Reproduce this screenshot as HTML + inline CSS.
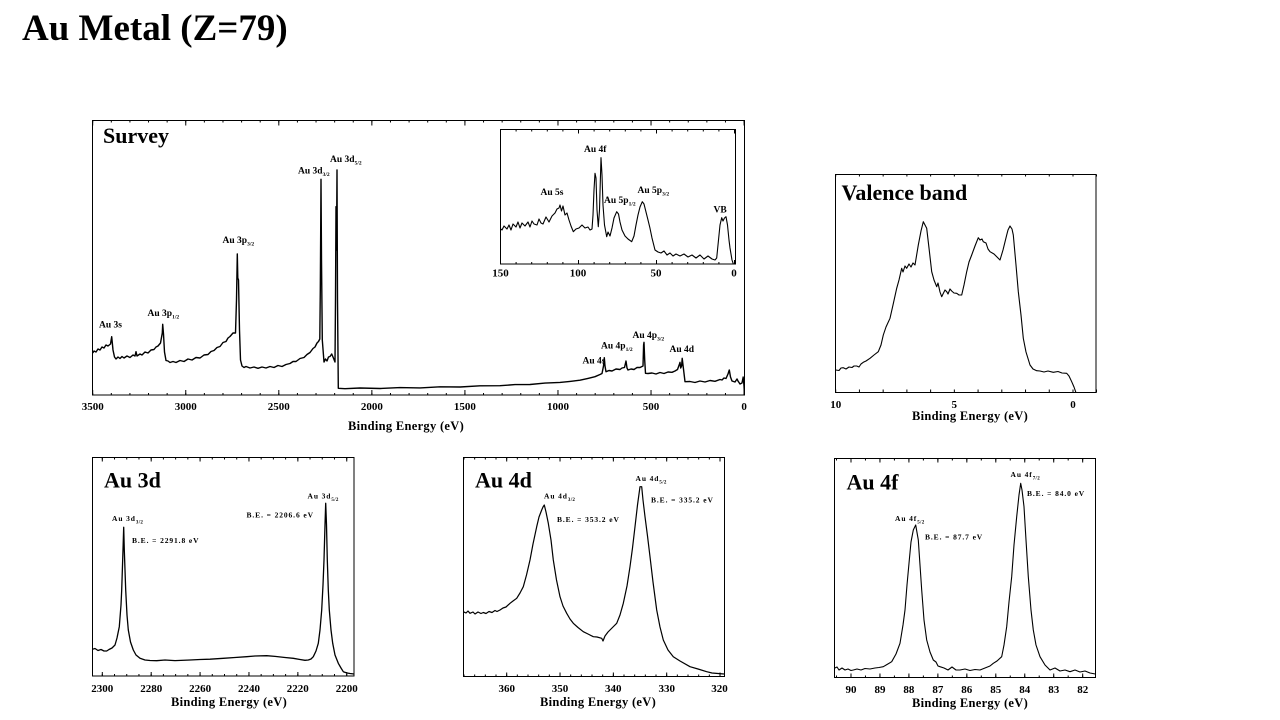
<!DOCTYPE html>
<html>
<head>
<meta charset="utf-8">
<style>
html,body{margin:0;padding:0;background:#fff;}
svg{display:block;}
text{font-family:"Liberation Serif",serif;font-weight:bold;fill:#000;}
.tk{font-size:11px;text-anchor:middle;}
.ax{font-size:12.5px;text-anchor:middle;letter-spacing:0.3px;}
.pt{font-size:22px;}
.an{font-size:9.5px;}
.sm{font-size:7.5px;letter-spacing:0.9px;}
</style>
</head>
<body>
<svg width="1280" height="720" viewBox="0 0 1280 720" xmlns="http://www.w3.org/2000/svg">
<defs>
<clipPath id="cs"><rect x="92.5" y="120.5" width="652" height="274.5"/></clipPath>
<clipPath id="ci"><rect x="500.5" y="129.5" width="235" height="134.5"/></clipPath>
<clipPath id="cv"><rect x="835.5" y="174.5" width="260.5" height="218"/></clipPath>
<clipPath id="c3"><rect x="92.5" y="457.5" width="261.5" height="218.5"/></clipPath>
<clipPath id="c4"><rect x="463.5" y="457.5" width="261" height="219"/></clipPath>
<clipPath id="cf"><rect x="834.5" y="458.5" width="261" height="219"/></clipPath>
</defs>

<text x="22" y="40" style="font-size:37px">Au Metal (Z=79)</text>

<!-- ============ SURVEY ============ -->
<rect x="92.5" y="120.5" width="652" height="274.5" fill="none" stroke="#000" stroke-width="1"/>
<g stroke="#000" fill="none">
<line x1="92.2" y1="394" x2="746" y2="394" stroke-width="2" stroke-dasharray="1 17.611"/>
<line x1="92.2" y1="392.5" x2="746" y2="392.5" stroke-width="5" stroke-dasharray="1 92.055"/>
<line x1="92.2" y1="121.5" x2="746" y2="121.5" stroke-width="2" stroke-dasharray="1 17.611"/>
<line x1="92.2" y1="123" x2="746" y2="123" stroke-width="5" stroke-dasharray="1 92.055"/>
</g>
<path clip-path="url(#cs)" fill="none" stroke="#000" stroke-width="1.4" stroke-linejoin="round" d="M92.7,353 L94,351 L96,352 L98,349 L100,350 L102,347 L104,348 L106,345 L108,346 L110.5,344 L111.7,336.7 L113,350 L114.5,357 L116,359 L118,357 L120,358.5 L122,356.5 L124,358 L127,356 L130,357.5 L133,355 L135,356 L136,351.7 L137,356 L140,354 L142,355 L145,352 L148,353 L151,350 L154,349.5 L156,347 L158,346 L160.5,343 L162.3,333 L162.7,324.3 L163.5,334 L164.5,352 L166,360.5 L168,361 L170,362.5 L173,361.5 L176,362.5 L180,360.5 L184,361.5 L188,359 L192,360 L196,357.5 L200,358 L204,355 L208,354.5 L211,351.5 L214,350.5 L217,347.5 L220,346.5 L223,342.5 L226,341.5 L228,338 L230,336.5 L233,333 L235.5,333 L236.5,300 L237.3,254 L237.8,278 L238.5,280 L239.5,330 L240.5,360 L242,366 L244,367.5 L246,366.5 L250,368 L254,367 L258,368.3 L262,367 L266,368 L270,366.5 L274,367.5 L278,365.5 L282,366.5 L286,364.5 L290,363.5 L293,361.5 L296,361.5 L300,358.5 L304,357.5 L307,354.5 L310,352.5 L313,348.5 L315,347 L317,343 L318.5,341.5 L319.8,339 L320.3,290 L320.7,230 L321,179.3 L321.5,260 L322.3,340 L324,362 L325.5,359 L327,361 L328.5,357 L330,356.5 L331.7,354 L333,357 L335,362 L335.5,300 L336,206.7 L336.5,250 L337,170 L337.5,300 L338.3,388.3 L345,388.7 L360,388 L380,388.5 L400,387.6 L420,387.9 L440,386.8 L460,387 L480,385.8 L500,385.7 L515,384.6 L530,384.5 L545,383.1 L560,382.4 L570,381.4 L580,380.2 L588,378.4 L595,376.7 L600,374.5 L602,373.5 L603.5,366 L604.3,357.7 L605,366 L606,371.7 L609,370.5 L612,371 L616,369 L620,369.5 L622,368 L624.5,367.5 L626,361 L627,368 L628,370 L631,369 L634,369.5 L637,367.5 L640,367.5 L643,366 L643.6,345 L644,342.3 L644.7,360 L645.5,373.3 L648,373.5 L652,373 L656,374 L660,372.5 L664,373.5 L668,372 L672,372.3 L675,371 L677.5,369.5 L679.5,364 L680,362.3 L680.7,368 L681.6,366 L682.2,358.3 L683,365 L685,381.7 L690,381.5 L695,382.5 L700,381 L705,382 L710,380.5 L715,381.3 L720,379.5 L722,380 L724,378 L726,378.5 L728,374 L729.3,370 L730.5,377 L732,381 L735,382 L737,379 L738,381 L740,384 L742,383 L743.2,377 L744,386 L744.5,395"/>

<text x="103" y="143" class="pt">Survey</text>
<text x="99" y="327.5" class="an">Au 3s</text>
<text x="147.5" y="316" class="an">Au 3p<tspan style="font-size:5.5px" dy="2.5">1/2</tspan></text>
<text x="222.5" y="243" class="an">Au 3p<tspan style="font-size:5.5px" dy="2.5">3/2</tspan></text>
<text x="298" y="173.5" class="an">Au 3d<tspan style="font-size:5.5px" dy="2.5">3/2</tspan></text>
<text x="330" y="162" class="an">Au 3d<tspan style="font-size:5.5px" dy="2.5">5/2</tspan></text>
<text x="582.5" y="363.5" class="an">Au 4s</text>
<text x="601" y="348.5" class="an">Au 4p<tspan style="font-size:5.5px" dy="2.5">1/2</tspan></text>
<text x="632.5" y="338" class="an">Au 4p<tspan style="font-size:5.5px" dy="2.5">3/2</tspan></text>
<text x="669.5" y="352" class="an">Au 4d</text>

<text x="92.7" y="410" class="tk">3500</text>
<text x="185.8" y="410" class="tk">3000</text>
<text x="278.8" y="410" class="tk">2500</text>
<text x="371.9" y="410" class="tk">2000</text>
<text x="464.9" y="410" class="tk">1500</text>
<text x="558" y="410" class="tk">1000</text>
<text x="651" y="410" class="tk">500</text>
<text x="744.1" y="410" class="tk">0</text>
<text x="406" y="430" class="ax">Binding Energy (eV)</text>

<!-- inset -->
<rect x="500.5" y="129.5" width="235" height="134.5" fill="#fff" stroke="#000" stroke-width="1"/>
<g stroke="#000" fill="none">
<line x1="500" y1="263" x2="736" y2="263" stroke-width="2" stroke-dasharray="1 14.6"/>
<line x1="500" y1="262" x2="736" y2="262" stroke-width="4" stroke-dasharray="1 77"/>
<line x1="500" y1="130.5" x2="736" y2="130.5" stroke-width="2" stroke-dasharray="1 14.6"/>
<line x1="500" y1="131.5" x2="736" y2="131.5" stroke-width="4" stroke-dasharray="1 77"/>
</g>
<path clip-path="url(#ci)" fill="none" stroke="#000" stroke-width="1.1" stroke-linejoin="round" d="M500,228.3 L502,230 L504,226 L507,229 L509,225 L511,230 L513,224 L516,227 L518,222 L520,228 L522,223 L525,226 L528,222 L530,227 L532,221 L534,224 L537,225 L539,219 L541,223 L543,224 L546,217 L549,222 L552,216 L555,213 L557,209 L559,208 L560,205 L561.5,211 L563,206 L565,215 L567,213 L569,220 L571,226 L573.3,231.7 L576,229 L579,228 L582,225 L585,228 L588,227 L590,230 L592,229 L593,215 L594,190 L595,173.3 L596,178 L597,210 L598.3,226.7 L599.5,210 L600.5,175 L601,157.7 L602,175 L603,205 L604.5,225 L606.7,236.7 L608,232 L610,236 L612,228 L614,218 L616.7,211.7 L618.5,214 L620,222 L622,230 L625,236 L628,239 L631.7,241.7 L634,236 L636,225 L638,215 L640,207 L642.3,201.7 L644,204 L646,212 L648,220 L650,228.3 L652,238 L655,250 L658,252 L661,253 L664,251 L667,255 L670,253 L673,256 L676,254 L680,256 L684,254 L688,257 L692,255 L696,258 L700,255 L704,259 L708,256 L712,259 L715,260 L716.7,258 L718,245 L720,225 L721.7,217.7 L723,221 L724.5,218 L726,216.7 L727.5,225 L729,240 L730,248 L732,260 L734,266"/>
<text x="584" y="152" class="an">Au 4f</text>
<text x="540.5" y="195" class="an">Au 5s</text>
<text x="604" y="203" class="an">Au 5p<tspan style="font-size:5.5px" dy="2.5">1/2</tspan></text>
<text x="637.5" y="193" class="an">Au 5p<tspan style="font-size:5.5px" dy="2.5">3/2</tspan></text>
<text x="713.5" y="212.5" class="an">VB</text>
<text x="500.5" y="276.5" class="tk">150</text>
<text x="578" y="276.5" class="tk">100</text>
<text x="656" y="276.5" class="tk">50</text>
<text x="734" y="276.5" class="tk">0</text>

<!-- ============ VALENCE BAND ============ -->
<rect x="835.5" y="174.5" width="260.5" height="218" fill="none" stroke="#000" stroke-width="1"/>
<g stroke="#000" fill="none">
<line x1="835.2" y1="391" x2="1097" y2="391" stroke-width="3" stroke-dasharray="1 22.73"/>
<line x1="835.2" y1="175.5" x2="1097" y2="175.5" stroke-width="2" stroke-dasharray="1 22.73"/>
</g>
<path clip-path="url(#cv)" fill="none" stroke="#000" stroke-width="1.1" stroke-linejoin="round" d="M835.7,370 L839,370.5 L841,368 L843.3,367.7 L846,369 L849,367 L852,367.5 L854,366 L856.7,366 L859,367 L861,364 L863.3,362.3 L866,361 L870,358.3 L874,355 L878.3,351.7 L881,345 L883.3,335 L886,327 L890,318.3 L893,305 L896.7,288.3 L899,280 L901.7,268.3 L903,272 L905,266 L906.7,268.3 L909,264 L911,267 L913,263 L915,265 L918.3,245 L921,231 L923.3,221.7 L926.7,228.3 L929,248 L931.7,271.7 L934,280 L936.7,286.7 L938,283 L940,292 L941.7,296.7 L943,294 L945,290 L946.7,291.7 L948,294 L950,289 L951.7,291 L954,293 L956.7,293.3 L959,295 L961.7,295 L964,285 L966.7,271.7 L969,262 L971.7,255 L975,246 L978.3,237.7 L980,240 L982,239 L983.3,241.7 L986,243 L988,249 L990,251.7 L994,254 L997,257 L1000,260 L1003,250 L1006.7,235 L1008,230 L1010,226 L1012,229 L1013.3,235 L1016,265 L1018.3,291.7 L1021,315 L1023.3,338.3 L1026,352 L1030,365 L1033,369 L1036.7,370.7 L1040,371 L1044,372 L1048,371 L1053.3,372.3 L1058,371.5 L1062,373 L1066.7,373.3 L1069,376 L1071.7,381.7 L1074,387 L1076,392.7 L1096,392.7"/>
<text x="841.5" y="200" class="pt">Valence band</text>
<text x="835.7" y="408" class="tk">10</text>
<text x="954.3" y="408" class="tk">5</text>
<text x="1073" y="408" class="tk">0</text>
<text x="970" y="420" class="ax">Binding Energy (eV)</text>

<!-- ============ Au 3d ============ -->
<rect x="92.5" y="457.5" width="261.5" height="218.5" fill="none" stroke="#000" stroke-width="1"/>
<g stroke="#000" fill="none">
<line x1="101.8" y1="675" x2="355" y2="675" stroke-width="2" stroke-dasharray="1 11.22"/>
<line x1="101.8" y1="674" x2="355" y2="674" stroke-width="4" stroke-dasharray="1 47.89"/>
<line x1="101.8" y1="458.5" x2="355" y2="458.5" stroke-width="2" stroke-dasharray="1 11.22"/>
<line x1="101.8" y1="459.5" x2="355" y2="459.5" stroke-width="4" stroke-dasharray="1 47.89"/>
</g>
<path clip-path="url(#c3)" fill="none" stroke="#000" stroke-width="1.3" stroke-linejoin="round" d="M92.3,649.3 L95,648.5 L98,650.5 L101,649.5 L104,651 L106.7,651 L109,649.5 L112,648 L115,645 L117,638 L119.3,626.7 L121,605 L121.7,590 L123,550 L123.7,527.3 L124.3,550 L125.7,590 L127,615 L128.3,630 L130.5,642 L133.3,650 L136,655 L140,658.3 L145,660 L150,660.5 L156.7,660.7 L165,660 L175,660.6 L190,660 L200,659.5 L210,659.2 L223.3,658.3 L235,657.5 L246.7,656.7 L255,656 L266.7,655.7 L275,656.4 L285,657.5 L293.3,658.3 L300,659.5 L305,660.3 L308.3,660 L311,659 L313.3,656.7 L316,651 L318.3,643.3 L320,630 L321.7,610 L323,585 L324,560 L325,525 L325.7,503.3 L326.5,525 L327.3,560 L328.3,590 L329.3,610 L331,630 L332.7,643.3 L335,655 L338.3,663.3 L341,668 L343.3,671.7 L347,673 L350,673.5 L354,674"/>
<text x="104" y="487.5" class="pt">Au 3d</text>
<text x="112" y="521" class="sm">Au 3d<tspan style="font-size:5px;letter-spacing:0.3px" dy="2.5">3/2</tspan></text>
<text x="132" y="543" class="sm">B.E. = 2291.8 eV</text>
<text x="307.5" y="498.5" class="sm">Au 3d<tspan style="font-size:5px;letter-spacing:0.3px" dy="2.5">5/2</tspan></text>
<text x="246.5" y="517.5" class="sm">B.E. = 2206.6 eV</text>
<text x="102.3" y="692" class="tk">2300</text>
<text x="151.2" y="692" class="tk">2280</text>
<text x="200.1" y="692" class="tk">2260</text>
<text x="249" y="692" class="tk">2240</text>
<text x="297.8" y="692" class="tk">2220</text>
<text x="346.7" y="692" class="tk">2200</text>
<text x="229" y="706" class="ax">Binding Energy (eV)</text>

<!-- ============ Au 4d ============ -->
<rect x="463.5" y="457.5" width="261" height="219" fill="none" stroke="#000" stroke-width="1"/>
<g stroke="#000" fill="none">
<line x1="463.5" y1="675.5" x2="726" y2="675.5" stroke-width="2" stroke-dasharray="1 9.667"/>
<line x1="506.2" y1="674.5" x2="726" y2="674.5" stroke-width="4" stroke-dasharray="1 52.33"/>
<line x1="463.5" y1="458.5" x2="726" y2="458.5" stroke-width="2" stroke-dasharray="1 9.667"/>
<line x1="506.2" y1="459.5" x2="726" y2="459.5" stroke-width="4" stroke-dasharray="1 52.33"/>
</g>
<path clip-path="url(#c4)" fill="none" stroke="#000" stroke-width="1.2" stroke-linejoin="round" d="M463.3,611.7 L466,613 L468,611 L470,613.3 L473,612 L475,614 L478,612 L481,613.5 L483.3,612.5 L486,613.5 L489,611.5 L492,612.5 L495,610.5 L497,611.5 L500,610 L503,608 L506,607 L510,603.3 L513,601 L516.7,598.3 L520,593 L523.3,586.7 L526.5,575 L530,560 L533,544 L536.7,526.7 L539,517 L541.7,510 L543,507 L544.3,505 L546,512 L548.3,523.3 L551,540 L553.3,560 L556.5,580 L560,596.7 L563,606 L566.7,613.3 L570,619 L573.3,623.3 L578,627.5 L583.3,631.7 L588,634 L593.3,636.7 L597,637 L601.7,638.3 L603,641 L605,636 L608,632 L610,630 L613,627 L616.7,623.3 L620,615 L623.3,603.3 L627,586 L630,566.7 L632.5,548 L635,526.7 L637.5,505 L640,486.7 L641.7,486.7 L643,500 L645,516.7 L647.5,536 L650,556.7 L653,582 L656.7,610 L660,627 L663.3,640 L668,650 L673.3,656.7 L680,661 L690,666.7 L698,669 L706.7,671.7 L712,673 L718,673.5 L724,674"/>
<text x="475" y="487.5" class="pt">Au 4d</text>
<text x="544" y="498.5" class="sm">Au 4d<tspan style="font-size:5px;letter-spacing:0.3px" dy="2.5">3/2</tspan></text>
<text x="557" y="522" class="sm">B.E. = 353.2 eV</text>
<text x="635.5" y="481" class="sm">Au 4d<tspan style="font-size:5px;letter-spacing:0.3px" dy="2.5">5/2</tspan></text>
<text x="651" y="502.5" class="sm">B.E. = 335.2 eV</text>
<text x="506.7" y="692" class="tk">360</text>
<text x="560" y="692" class="tk">350</text>
<text x="613.3" y="692" class="tk">340</text>
<text x="666.7" y="692" class="tk">330</text>
<text x="719.5" y="692" class="tk">320</text>
<text x="598" y="706" class="ax">Binding Energy (eV)</text>

<!-- ============ Au 4f ============ -->
<rect x="834.5" y="458.5" width="261" height="219" fill="none" stroke="#000" stroke-width="1"/>
<g stroke="#000" fill="none">
<line x1="836" y1="676.5" x2="1096" y2="676.5" stroke-width="2" stroke-dasharray="1 13.48"/>
<line x1="850.5" y1="675.5" x2="1096" y2="675.5" stroke-width="4" stroke-dasharray="1 27.96"/>
<line x1="836" y1="459.5" x2="1096" y2="459.5" stroke-width="2" stroke-dasharray="1 13.48"/>
<line x1="850.5" y1="460.5" x2="1096" y2="460.5" stroke-width="4" stroke-dasharray="1 27.96"/>
</g>
<path clip-path="url(#cf)" fill="none" stroke="#000" stroke-width="1.1" stroke-linejoin="round" d="M834.3,668.3 L837,667 L839,670 L842,668 L845,670 L848,669 L851,670.5 L853.3,670 L857,669 L861,670 L865,668.5 L870,669 L875,668 L879,667.5 L883.3,666.7 L887,664.5 L891.7,661.7 L896,654 L900,643.3 L903,625 L905,610 L907,585 L909.3,560 L911,542 L913.3,530 L915.7,525 L918.3,540 L920,565 L921.7,590 L924,620 L926.7,640 L930,652 L933.3,660 L936,662 L938,666 L940,666.7 L944,668 L948,670 L952,667 L956,670 L960,670 L965,669 L970,670.5 L975,669.5 L980,670 L985,668 L990,666 L993.3,663.3 L997,661 L1001.7,656.7 L1004,645 L1006.7,626.7 L1009,602 L1011.7,576.7 L1014,545 L1016.7,516.7 L1019,495 L1020.7,483.3 L1022,490 L1024,506.7 L1026,540 L1028.3,576.7 L1031,610 L1033.3,630 L1036,645 L1040,656.7 L1045,665 L1050,670 L1055,668 L1060,671 L1065,670 L1070,671.7 L1075,670 L1080,672 L1085,671 L1090,673 L1095.3,674"/>
<text x="846.5" y="489.5" class="pt">Au 4f</text>
<text x="895" y="521" class="sm">Au 4f<tspan style="font-size:5px;letter-spacing:0.3px" dy="2.5">5/2</tspan></text>
<text x="925" y="539.5" class="sm">B.E. = 87.7 eV</text>
<text x="1010.5" y="477" class="sm">Au 4f<tspan style="font-size:5px;letter-spacing:0.3px" dy="2.5">7/2</tspan></text>
<text x="1027" y="496" class="sm">B.E. = 84.0 eV</text>
<text x="851" y="693" class="tk">90</text>
<text x="880" y="693" class="tk">89</text>
<text x="908.9" y="693" class="tk">88</text>
<text x="937.9" y="693" class="tk">87</text>
<text x="966.8" y="693" class="tk">86</text>
<text x="995.8" y="693" class="tk">85</text>
<text x="1024.8" y="693" class="tk">84</text>
<text x="1053.7" y="693" class="tk">83</text>
<text x="1082.7" y="693" class="tk">82</text>
<text x="970" y="707" class="ax">Binding Energy (eV)</text>
</svg>
</body>
</html>
